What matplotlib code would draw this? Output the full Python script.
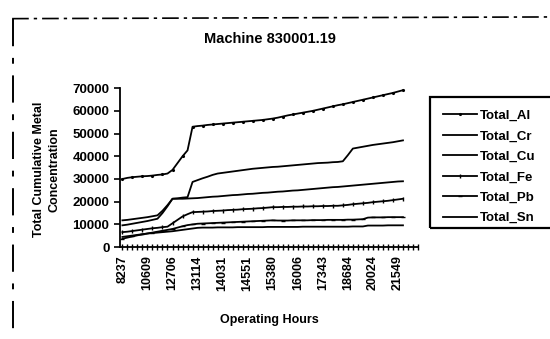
import numpy as np
import matplotlib
matplotlib.use("Agg")
import matplotlib.pyplot as plt
from matplotlib.lines import Line2D
from matplotlib.patches import Rectangle

plt.rcParams['font.family'] = ['Liberation Sans', 'DejaVu Sans']

# Category labels (operating hours), one every 5 points
hour_labels = ["8237", "10609", "12706", "13114", "14031", "14551",
               "15380", "16006", "17343", "18684", "20024", "21549"]

total_al = [30000, 30500, 30800, 31000, 31200, 31300, 31500, 31800, 32000, 32400,
            34000, 37000, 40000, 42600,
            53000, 53300, 53500, 53800, 54000, 54200, 54400, 54600, 54800, 55000,
            55200, 55400, 55600, 55800, 56000, 56300, 56600,
            57000, 57500, 58000, 58400, 58800, 59200, 59600, 60000, 60500, 61000,
            61500, 62000, 62500,
            62900, 63400, 63900, 64400, 64900, 65400, 65900, 66400, 66900, 67400,
            67900, 68500, 69100]

total_cr = [11800, 12000, 12300, 12600, 12900, 13200, 13600, 14000,
            16000, 18500, 21300, 21500, 21800, 22000,
            28700, 29500, 30300, 31000, 31800, 32400,
            32700, 33000, 33300, 33600, 33900, 34200, 34500, 34700, 34900, 35100, 35300,
            35400, 35600, 35800, 36000, 36200, 36400, 36600, 36800, 37000, 37100,
            37200, 37400, 37500,
            37800, 40500, 43400,
            43800, 44200, 44600, 45000, 45300, 45600, 45900, 46200, 46600, 47000]

total_cu = [9600, 9900, 10300, 10700, 11100, 11500, 12000, 12500,
            15000, 18000, 21300,
            21300, 21300, 21400, 21500, 21600,
            21800, 22000, 22200, 22300, 22500, 22700, 22900, 23000, 23200, 23400,
            23500, 23700, 23900, 24000, 24200, 24400, 24500, 24700, 24900, 25000,
            25200, 25400, 25600, 25800, 26000, 26200, 26400, 26500,
            26700, 26900, 27100, 27300, 27500, 27700, 27900, 28100, 28300, 28500,
            28700, 28900, 29000]

total_fe = [6600, 6800, 7100, 7400, 7700, 8000, 8300, 8500, 8800, 9000,
            10500, 12000, 13500, 14500, 15400,
            15500, 15600, 15700, 15900, 16000, 16100, 16300, 16400, 16500, 16700,
            16800, 16900, 17100, 17200, 17400, 17600,
            17600, 17700, 17700, 17800, 17800, 17900, 17900, 18000, 18000, 18100,
            18100, 18200, 18200,
            18400, 18600, 18900, 19100, 19300, 19500, 19800, 20000, 20200, 20400,
            20700, 21000, 21300]

total_pb = [3700, 4200, 4700, 5200, 5600, 6000, 6400, 6800, 7200, 7600, 8000,
            8600, 9200, 9700, 10000, 10300,
            10400, 10500, 10600, 10700, 10800, 10900, 11000, 11100, 11200, 11300,
            11400, 11500, 11600, 11700, 11800,
            11700, 11700, 11700, 11800, 11800, 11800, 11800, 11900, 11900, 11900,
            12000, 12000, 12000,
            12000, 12100, 12100, 12200, 12300, 13000, 13100, 13100, 13100, 13200,
            13200, 13200, 13200]

total_sn = [4500, 4800, 5100, 5400, 5700, 6000, 6200, 6400, 6600, 6800, 7000,
            7300, 7600, 7900, 8200, 8500,
            8600, 8600, 8600, 8700, 8700, 8700, 8700, 8800, 8800, 8800, 8800, 8800,
            8800, 8900, 8900, 8900, 8900, 8900, 8900, 8900, 9000, 9000, 9000, 9000,
            9000, 9000, 9000, 9000,
            9000, 9000, 9100, 9100, 9100, 9500, 9500, 9500, 9500, 9600, 9600, 9600,
            9600]

series = [("Total_Al", total_al, '.'), ("Total_Cr", total_cr, None),
          ("Total_Cu", total_cu, None), ("Total_Fe", total_fe, '|'),
          ("Total_Pb", total_pb, '_'), ("Total_Sn", total_sn, None)]

fig = plt.figure(figsize=(5.5, 3.39), dpi=100)
ax = fig.add_axes([0.218, 0.271, 0.542, 0.469])

x = np.arange(len(total_al))
for name, vals, mk in series:
    ax.plot(x, vals, color='black', lw=1.3, marker=mk, markersize=2.5,
            markevery=2, label=name)

ax.set_xlim(-0.5, 59)
ax.set_ylim(0, 70000)
ax.set_yticks(np.arange(0, 70001, 10000))
ax.set_yticklabels([str(v) for v in range(0, 70001, 10000)],
                   fontsize=9.5, fontweight='bold')
ax.set_xticks(np.arange(0, 60, 5))
ax.set_xticklabels(hour_labels, rotation=90, fontsize=9, fontweight='bold')
ax.set_xticks(np.arange(0, 60, 1), minor=True)
ax.tick_params(axis='x', which='both', direction='inout', length=5, width=1)
ax.tick_params(axis='y', direction='out', length=4, width=1.2)
for s in ['top', 'right']:
    ax.spines[s].set_visible(False)
for s in ['left', 'bottom']:
    ax.spines[s].set_linewidth(1.3)

fig.text(0.49, 0.885, "Machine 830001.19", ha='center', va='center',
         fontsize=10.5, fontweight='bold')
fig.text(0.49, 0.055, "Operating Hours", ha='center', va='center',
         fontsize=9, fontweight='bold')
fig.text(0.085, 0.50, "Total Cumulative Metal\nConcentration", ha='center',
         va='center', rotation=90, fontsize=9, fontweight='bold', linespacing=1.5)

leg = ax.legend(loc='upper left', bbox_to_anchor=(431 / 550, 1 - 98 / 339),
                bbox_transform=fig.transFigure, frameon=False,
                fontsize=9.5, handlelength=2.6, labelspacing=0.62,
                borderpad=0.4, handletextpad=0.2)
for t in leg.get_texts():
    t.set_fontweight('bold')
# legend box runs past the right edge of the scan
fig.add_artist(Rectangle((430 / 550, 1 - 228 / 339), 0.3, 131 / 339,
                         transform=fig.transFigure, fill=False,
                         edgecolor='black', lw=1.6))

# chart area border (scanned look)
fig.add_artist(Line2D([0.022, 1.0], [0.945, 0.95], color='black', lw=1.2,
                      linestyle=(0, (10, 3, 2, 3)), transform=fig.transFigure))
fig.add_artist(Line2D([0.024, 0.024], [0.945, 0.03], color='black', lw=1.4,
                      linestyle=(0, (14, 6, 3, 6)), transform=fig.transFigure))

fig.savefig("out.png", dpi=100)
